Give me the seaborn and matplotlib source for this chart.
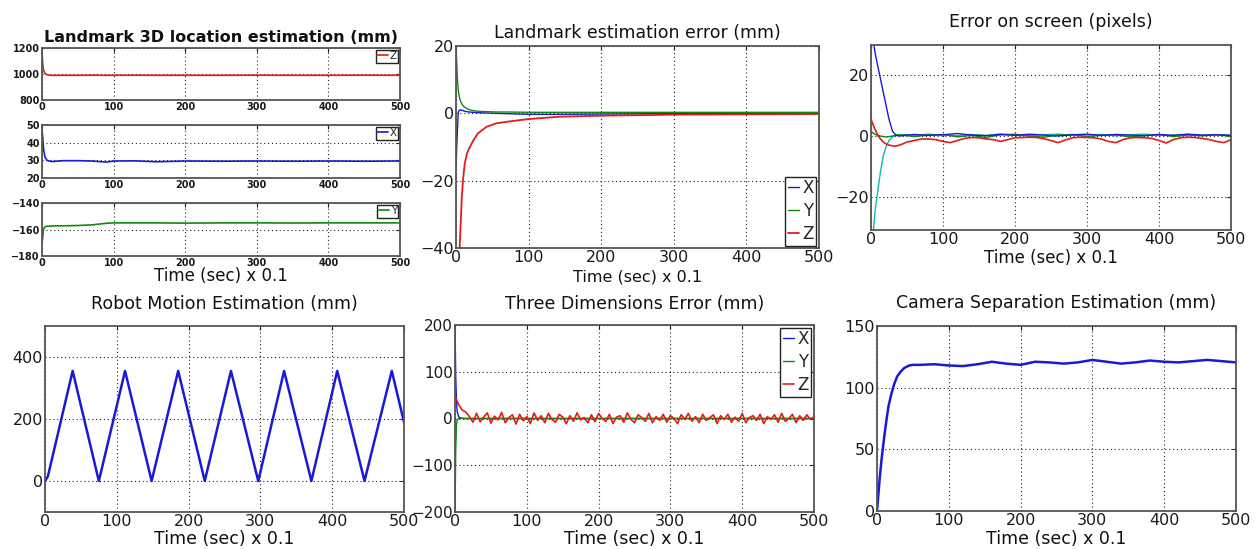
import numpy as np
import pandas as pd
import matplotlib
matplotlib.use("Agg")
import matplotlib.pyplot as plt
import seaborn as sns

W, H = 1260, 549

# ---------------- data ----------------
# Panel 1: Landmark 3D location estimation (mm)
lm_t = [0, 1, 2, 4, 7, 10, 15, 20, 30, 50, 70, 90, 100, 130, 160, 200, 250, 300, 350, 400, 450, 500]
lm_z = [1160, 1080, 1030, 1005, 995, 991, 989, 990, 990, 990, 991, 990, 990, 991, 990, 990, 990, 991, 990, 990, 991, 990]
lm_x = [47, 43, 37, 32, 30, 29.6, 29.3, 29.5, 29.8, 29.8, 29.6, 29.0, 29.6, 29.7, 29.2, 29.6, 29.5, 29.6, 29.5, 29.6, 29.5, 29.6]
lm_y = [-170, -166, -160, -158, -157.5, -157.5, -157.3, -157.2, -157.2, -157, -156.5, -155.3, -155, -155, -155, -155.2, -155, -155, -155.1, -155, -155, -155]

# Panel 2: Landmark estimation error (mm)
le_t = [0, 1, 2, 3, 4, 5, 6, 8, 10, 12, 15, 18, 24, 30, 42, 55, 70, 100, 143, 200, 300, 400, 500]
le_x = [-16, -10, -5, 0, 0.8, 1, 1, 0.9, 0.8, 0.6, 0.5, 0.4, 0.3, 0.2, 0.1, 0, -0.1, -0.3, -0.3, -0.2, -0.1, 0, 0]
le_y = [20, 15, 10, 7, 5.5, 4.5, 3.8, 2.8, 2.2, 1.8, 1.4, 1.1, 0.8, 0.6, 0.5, 0.4, 0.4, 0.3, 0.3, 0.3, 0.3, 0.3, 0.3]
le_z = [-60, -55, -50, -48, -44, -40, -35, -25, -19, -15, -12, -10.5, -8, -6, -4, -3, -2.5, -1.7, -1, -0.7, -0.4, -0.3, -0.2]

# Panel 3: Error on screen (pixels)
es_t = [0, 3, 6, 9, 13, 17, 21, 25, 30, 35, 40, 50, 60, 80, 100,
        120, 140, 160, 180, 200, 220, 240, 260, 280, 300, 320, 340, 360, 380, 400, 420, 440, 460, 480, 500]
es_blue = [37, 31.5, 27, 23.5, 19, 14.5, 10, 5.5, 1.5, 0.2, 0, 0.3, 0.5, 0.2, 0.4,
           0.8, 0.3, 0.1, 0.5, 0.2, 0.6, 0.3, 0, 0.4, 0.6, 0.2, 0.5, 0.3, 0.1, 0.5, 0.2, 0.6, 0.3, 0.4, 0.2]
es_cyan = [-40, -32, -24, -19, -12, -6.5, -3.5, -1.5, -0.3, 0.3, 0.5, 0.4, 0.2, 0.6, 0.3,
           0.1, 0.5, 0.2, 0.7, 0.3, 0.1, 0.4, 0.6, 0.2, 0.3, 0.5, 0.1, 0.4, 0.6, 0.2, 0.3, 0.5, 0.1, 0.4, 0.3]
es_green = [1.5, 1, 0.5, 0.2, 0, -0.2, -0.3, -0.2, 0, 0.2, 0.3, 0.1, -0.2, 0.3, 0.5,
            -0.3, 0.2, -0.5, 0.4, 0.6, 0, -0.4, 0.3, 0.5, -0.2, 0.2, 0.4, -0.3, 0.1, 0.5, -0.2, 0.3, 0.1, 0.4, -0.1]
es_red_t = [0, 5, 10, 15, 20, 25, 30, 35, 40] + list(range(50, 501, 10))
es_red = [5.5, 2.5, 0, -1.5, -2.5, -3, -3.3, -3.3, -3,
          -2, -1.5, -1, -1, -1.2, -1.8, -2.2, -1.5, -0.8, -0.5,
          -0.6, -1, -1.2, -1.8, -1.2, -0.6, -0.5, -0.4, -0.5, -0.9,
          -1.5, -2.2, -1.3, -0.6, -0.4, -0.5, -0.6, -1, -1.8, -2.2,
          -1.2, -0.6, -0.5, -0.6, -0.8, -1.5, -2.3, -1.2, -0.6, -0.4,
          -0.5, -0.8, -1.2, -1.8, -2.2, -1.2]

# Panel 4: Robot Motion Estimation (mm)
rm_t = [0, 4, 38.5, 75, 111.5, 148.5, 185.5, 222.5, 259, 297, 333, 371, 407, 445, 483, 500]
rm_v = [0, 15, 355, 0, 355, 0, 355, 0, 355, 0, 355, 0, 355, 0, 355, 190]

# Panel 5: Three Dimensions Error (mm)
td_xt = [0, 1, 2, 3, 5, 8, 15, 30, 100, 200, 300, 400, 500]
td_x = [200, 90, 40, 15, 4, 1, 0, 0, 0, 0, 0, 0, 0]
td_yt = [0, 1, 2, 3, 5, 10, 500]
td_y = [-200, -70, -15, -3, 0, 0, 0]
td_zt = list(range(0, 501, 5))
td_z = [48, 30, 18, 14, 4, -8, 11, -7, 3, 12,
        -10, 5, -3, 13, -9, 2, 8, -12, 9, -5,
        4, -11, 12, -4, 6, -9, 11, -2, -8, 9,
        3, -11, 6, -6, 12, -3, 2, -9, 8, -7,
        11, 0, -6, 9, -11, 3, 6, -8, 12, -2,
        -9, 8, 2, -6, 11, -9, 4, -4, 9, -8,
        6, 0, -11, 8, -2, 11, -6, 4, -9, 9,
        -4, 2, 8, -11, 6, -2, 9, -8, 3, -6,
        11, -9, 2, 6, -4, 9, -11, 4, -2, 8,
        -8, 11, -6, 0, 9, -9, 6, -4, 8, -2,
        4]

# Panel 6: Camera Separation Estimation (mm)
cs_t = [0, 2, 4, 6, 8, 10, 13, 16, 20, 24, 28, 33, 38, 45, 50, 60, 80, 100, 120, 140, 160,
        180, 200, 220, 240, 260, 280, 300, 320, 340, 360, 380, 400, 420, 440, 460, 480, 500]
cs_v = [0, 14, 28, 40, 50, 60, 73, 85, 95, 103, 109, 113, 116, 118, 118.5, 118.5, 119, 118, 117.5, 119, 121,
        119.5, 118.5, 121, 120.5, 119.5, 120.5, 122.5, 121, 119.5, 120.5, 122, 121, 120.5, 121.5, 122.5, 121.5, 120.5]

xticks = [0, 100, 200, 300, 400, 500]
xlabel = "Time (sec) x 0.1"

BLUE, GREEN, RED, CYAN = "#1a1ad6", "#0f8a0f", "#e41b1b", "#10b8b8"

TICK_FS = 11.5
TITLE_FS = 12.5
XLAB_FS = 12.5

# ---------------- style ----------------
sns.set_style("white")
plt.rcParams['font.family'] = ['DejaVu Sans']

fig = plt.figure(figsize=(12.6, 5.49), dpi=100)


def add_ax(x0, y0, x1, y1):
    return fig.add_axes([x0 / W, 1 - y1 / H, (x1 - x0) / W, (y1 - y0) / H])


def style(ax, yticks, ylim, fs):
    ax.set_xlim(0, 500)
    ax.set_ylim(*ylim)
    ax.set_xticks(xticks)
    ax.set_yticks(yticks)
    ax.grid(True, linestyle=(0, (1, 2.5)), color='#222222', linewidth=0.8)
    ax.tick_params(direction='in', length=3, top=True, right=True,
                   labelsize=fs, pad=1.5, colors='#1a1a1a')
    for s in ax.spines.values():
        s.set_color('#555555')
        s.set_linewidth(1.3)
    ax.set_xlabel('')
    ax.set_ylabel('')


def title(ax, text, top, bottom, cy, fs, weight='normal'):
    h = bottom - top
    ax.set_title(text, y=1 + (top - cy) / h, va='center', pad=0, fontsize=fs,
                 fontweight=weight, color='#111111')


def xlab(ax, top, bottom, cy, fs):
    h = bottom - top
    ax.set_xlabel(xlabel, fontsize=fs, color='#111111')
    ax.xaxis.set_label_coords(0.5, -(cy - bottom) / h)
    ax.xaxis.label.set_va('center')


def legend(ax, loc, fs, hl=0.9, ls=0.35):
    leg = ax.legend(loc=loc, handlelength=hl, handletextpad=0.2, borderpad=0.15,
                    labelspacing=ls, borderaxespad=0.15, frameon=True, fancybox=False,
                    edgecolor='#222222', framealpha=1, fontsize=fs)
    leg.get_frame().set_linewidth(1.0)


def line(ax, t, v, color, lw=1.0, label=None):
    sns.lineplot(x=t, y=v, ax=ax, color=color, linewidth=lw, label=label,
                 estimator=None, sort=False, legend=label is not None)


# ---- Panel 1: three stacked subplots ----
ax1z = add_ax(42, 48, 400, 100)
line(ax1z, lm_t, lm_z, RED, 1.2, 'Z')
style(ax1z, [800, 1000, 1200], (800, 1200), 7)
legend(ax1z, 'upper right', 7.5, hl=1.0)
title(ax1z, "Landmark 3D location estimation (mm)", 48, 100, 37, 11.5, 'bold')

ax1x = add_ax(42, 125, 400, 178)
line(ax1x, lm_t, lm_x, BLUE, 1.2, 'X')
style(ax1x, [20, 30, 40, 50], (20, 50), 7)
legend(ax1x, 'upper right', 7.5, hl=1.0)

ax1y = add_ax(42, 203, 400, 256)
line(ax1y, lm_t, lm_y, GREEN, 1.2, 'Y')
style(ax1y, [-180, -160, -140], (-180, -140), 7)
legend(ax1y, 'upper right', 7.5, hl=1.0)
xlab(ax1y, 203, 256, 276, 12)
for a in (ax1z, ax1x, ax1y):
    for lab in a.get_xticklabels() + a.get_yticklabels():
        lab.set_fontweight('bold')

# ---- Panel 2 ----
ax2 = add_ax(456, 46, 819, 248)
line(ax2, le_t, le_x, BLUE, 1.0, 'X')
line(ax2, le_t, le_y, GREEN, 1.0, 'Y')
line(ax2, le_t, le_z, RED, 1.3, 'Z')
style(ax2, [-40, -20, 0, 20], (-40, 20), TICK_FS)
legend(ax2, 'lower right', 12, hl=0.7, ls=0.3)
title(ax2, "Landmark estimation error (mm)", 46, 248, 33, TITLE_FS)
xlab(ax2, 46, 248, 277, 11.5)

# ---- Panel 3 ----
ax3 = add_ax(871, 45, 1231, 230)
line(ax3, es_t, es_cyan, CYAN, 1.0)
line(ax3, es_t, es_green, GREEN, 1.0)
line(ax3, es_t, es_blue, BLUE, 1.0)
line(ax3, es_red_t, es_red, RED, 1.2)
style(ax3, [-20, 0, 20], (-31, 30), TICK_FS)
title(ax3, "Error on screen (pixels)", 45, 230, 22, TITLE_FS)
xlab(ax3, 45, 230, 258, 12)

# ---- Panel 4 ----
ax4 = add_ax(45, 326, 404, 512)
line(ax4, rm_t, rm_v, BLUE, 1.8)
style(ax4, [0, 200, 400], (-100, 500), TICK_FS)
title(ax4, "Robot Motion Estimation (mm)", 326, 512, 304, TITLE_FS)
xlab(ax4, 326, 512, 539, XLAB_FS)

# ---- Panel 5 ----
ax5 = add_ax(455, 325, 814, 512)
line(ax5, td_xt, td_x, BLUE, 1.0, 'X')
line(ax5, td_yt, td_y, GREEN, 1.0, 'Y')
line(ax5, td_zt, td_z, RED, 1.2, 'Z')
style(ax5, [-200, -100, 0, 100, 200], (-200, 200), TICK_FS)
ax5.tick_params(axis='y', labelsize=11)
legend(ax5, 'upper right', 12, hl=0.7, ls=0.3)
title(ax5, "Three Dimensions Error (mm)", 325, 512, 304, TITLE_FS)
xlab(ax5, 325, 512, 539, XLAB_FS)

# ---- Panel 6 ----
ax6 = add_ax(877, 326, 1236, 511)
line(ax6, cs_t, cs_v, BLUE, 1.8)
style(ax6, [0, 50, 100, 150], (0, 150), TICK_FS)
title(ax6, "Camera Separation Estimation (mm)", 326, 511, 303, TITLE_FS)
xlab(ax6, 326, 511, 539, XLAB_FS)

fig.savefig("out.png", dpi=100, facecolor='white')
